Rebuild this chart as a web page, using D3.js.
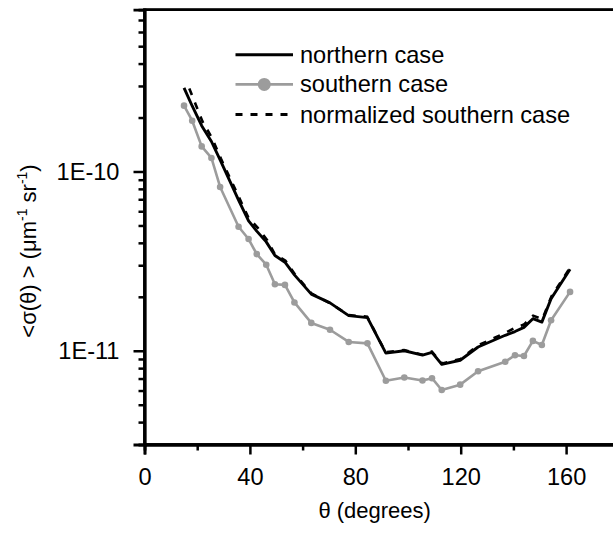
<!DOCTYPE html>
<html>
<head>
<meta charset="utf-8">
<script src="https://cdn.jsdelivr.net/npm/d3@7"></script>
<style>
  html, body { margin: 0; padding: 0; background: #fff; }
  svg { display: block; }
  text { font-family: "Liberation Sans", Arial, Helvetica, sans-serif; fill: #000; }
</style>
</head>
<body>
<svg id="chart" width="613" height="536"></svg>
<script>
// ---- data ----
const theta = [15, 18.1, 21.7, 25.4, 28.7, 35.7, 39.5, 42.6, 46.2, 49.5, 53.3, 56.9, 63.3, 70.4, 77.5, 84.6, 91.6, 98.6, 105.5, 109.1, 112.8, 119.8, 126.6, 136.9, 140.6, 144, 147.4, 150.8, 154.3, 161.5];
const northern = [2.93e-10, 2.32e-10, 1.8e-10, 1.47e-10, 1.16e-10, 6.93e-11, 5.3e-11, 4.65e-11, 4.05e-11, 3.4e-11, 3.12e-11, 2.65e-11, 2.07e-11, 1.85e-11, 1.57e-11, 1.53e-11, 9.7e-12, 1.0e-11, 9.45e-12, 9.8e-12, 8.4e-12, 8.85e-12, 1.05e-11, 1.22e-11, 1.28e-11, 1.35e-11, 1.51e-11, 1.445e-11, 1.95e-11, 2.85e-11];
const southern = [2.33e-10, 1.92e-10, 1.38e-10, 1.19e-10, 8.2e-11, 4.92e-11, 4.2e-11, 3.46e-11, 3.02e-11, 2.35e-11, 2.33e-11, 1.86e-11, 1.43e-11, 1.31e-11, 1.12e-11, 1.10e-11, 6.8e-12, 7.1e-12, 6.82e-12, 7.03e-12, 6.04e-12, 6.47e-12, 7.69e-12, 8.69e-12, 9.44e-12, 9.35e-12, 1.135e-11, 1.077e-11, 1.48e-11, 2.13e-11];
const normTheta = [17, 22, 25.5, 29, 36, 39.5, 43, 46.5, 49.5, 53.5, 57, 63.5, 70.5, 77.5, 84.5, 91.5, 98.5, 105.5, 109, 113, 120, 126.5, 137, 140.5, 144, 147.5, 151, 154.5, 162];
const normalized = [2.9e-10, 1.9e-10, 1.55e-10, 1.18e-10, 7.1e-11, 5.5e-11, 4.85e-11, 4.15e-11, 3.45e-11, 3.18e-11, 2.68e-11, 2.08e-11, 1.84e-11, 1.58e-11, 1.55e-11, 9.8e-12, 1.01e-11, 9.5e-12, 9.9e-12, 8.5e-12, 9.0e-12, 1.07e-11, 1.26e-11, 1.34e-11, 1.4e-11, 1.57e-11, 1.5e-11, 2.02e-11, 2.98e-11];

const xMajor = [0, 40, 80, 120, 160];
const xMinor = [20, 60, 100, 140];
const yMajor = [1e-11, 1e-10];
const yMajorLabels = ["1E-11", "1E-10"];
const yMinor = [4e-12, 5e-12, 6e-12, 7e-12, 8e-12, 9e-12, 2e-11, 3e-11, 4e-11, 5e-11, 6e-11, 7e-11, 8e-11, 9e-11, 2e-10, 3e-10, 4e-10, 5e-10, 6e-10, 7e-10];
const legendLabels = ["northern case", "southern case", "normalized southern case"];

// ---- layout ----
const svg = d3.select("#chart");
const L = 144.5, R = 618.8, T = 9.6, B = 444.5;
const x = d3.scaleLinear().domain([0, 180]).range([L, R]);
const y = d3.scaleLog().domain([3e-12, 8e-10]).range([B, T]);
const gray = "#9c9c9c";
const dash = "7,8";

// frame (top/right)
svg.append("rect").attr("x", L).attr("y", T).attr("width", R - L).attr("height", B - T)
  .attr("fill", "none").attr("stroke", "#000").attr("stroke-width", 2.8);

// x axis
const fs = 23.6;
svg.append("g").attr("transform", `translate(0,${B})`)
  .call(d3.axisBottom(x).tickValues(xMajor).tickSize(10).tickPadding(14).tickFormat(d3.format("d")));
svg.append("g").attr("transform", `translate(0,${B})`)
  .call(d3.axisBottom(x).tickValues(xMinor).tickSize(6).tickFormat(""));
// y axis
svg.append("g").attr("transform", `translate(${L},0)`)
  .call(d3.axisLeft(y).tickValues(yMajor).tickSize(11).tickPadding(14).tickFormat((d, i) => yMajorLabels[i]));
svg.append("g").attr("transform", `translate(${L},0)`)
  .call(d3.axisLeft(y).tickValues(yMinor).tickSize(6).tickFormat(""));

svg.selectAll(".domain").attr("stroke", "#000").attr("stroke-width", 2.8);
svg.selectAll(".tick line").attr("stroke", "#000").attr("stroke-width", 2.5);
svg.selectAll(".tick text").attr("font-size", fs).attr("font-family", '"Liberation Sans", Arial, sans-serif');

// axis titles
svg.append("text").attr("x", (x(0) + x(180)) / 2 - 7).attr("y", 518)
  .attr("text-anchor", "middle").attr("font-size", 22).text("θ (degrees)");

const yt = svg.append("text").attr("transform", "translate(36,251) rotate(-90)")
  .attr("text-anchor", "middle").attr("font-size", 22);
yt.append("tspan").text("<σ(θ) > (μm");
yt.append("tspan").attr("font-size", 14).attr("dy", -9).text("-1");
yt.append("tspan").attr("dy", 9).text(" sr");
yt.append("tspan").attr("font-size", 14).attr("dy", -9).text("-1");
yt.append("tspan").attr("dy", 9).text(")");

// lines
const lineN = d3.line().x((d, i) => x(theta[i])).y(d => y(d));
const lineNorm = d3.line().x((d, i) => x(normTheta[i])).y(d => y(d));

svg.append("path").datum(southern).attr("d", lineN)
  .attr("fill", "none").attr("stroke", gray).attr("stroke-width", 2.6).attr("stroke-linejoin", "round");
svg.append("g").selectAll("circle").data(southern).join("circle")
  .attr("cx", (d, i) => x(theta[i])).attr("cy", d => y(d)).attr("r", 3.3).attr("fill", gray);

svg.append("path").datum(northern).attr("d", lineN)
  .attr("fill", "none").attr("stroke", "#000").attr("stroke-width", 2.9).attr("stroke-linejoin", "round");
svg.append("path").datum(normalized).attr("d", lineNorm)
  .attr("fill", "none").attr("stroke", "#000").attr("stroke-width", 2.6).attr("stroke-dasharray", dash);

// legend
const lg = svg.append("g");
const lx0 = 235.5, lx1 = 293, ly = [54.7, 84.4, 114.5];
lg.append("line").attr("x1", lx0).attr("x2", lx1).attr("y1", ly[0]).attr("y2", ly[0])
  .attr("stroke", "#000").attr("stroke-width", 3);
lg.append("line").attr("x1", lx0).attr("x2", lx1).attr("y1", ly[1]).attr("y2", ly[1])
  .attr("stroke", gray).attr("stroke-width", 2.8);
lg.append("circle").attr("cx", (lx0 + lx1) / 2).attr("cy", ly[1]).attr("r", 6.5).attr("fill", gray);
lg.append("line").attr("x1", lx0).attr("x2", lx1 - 3).attr("y1", ly[2]).attr("y2", ly[2])
  .attr("stroke", "#000").attr("stroke-width", 3).attr("stroke-dasharray", dash);
lg.selectAll("text").data(legendLabels).join("text")
  .attr("x", 300).attr("y", (d, i) => ly[i] + 8).attr("font-size", fs).text(d => d);
</script>
</body>
</html>
